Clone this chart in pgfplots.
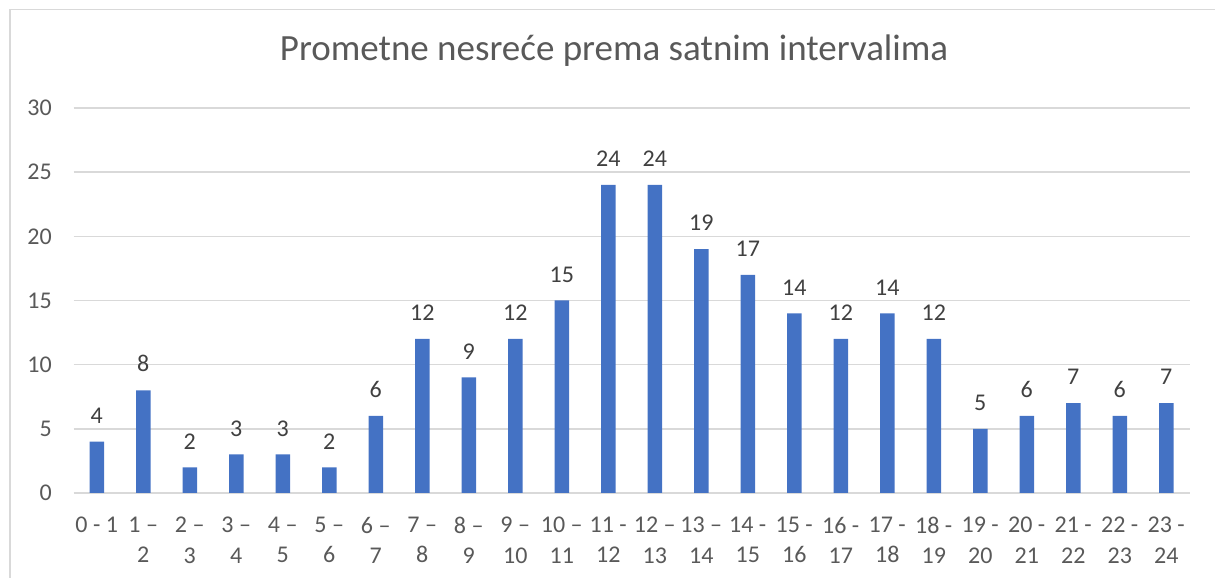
\documentclass[border=0pt]{standalone}
\usepackage{fontspec}
\setmainfont{Carlito}
\usepackage{pgfplots}
\pgfplotsset{compat=1.18}
\definecolor{barblue}{HTML}{4472C4}
\definecolor{gridgray}{HTML}{D9D9D9}
\definecolor{ticktext}{HTML}{595959}
\definecolor{labeltext}{HTML}{404040}
\begin{document}
\begin{tikzpicture}[x=1pt,y=1pt]
\path[use as bounding box] (0,0) rectangle (1215,578);
\draw[gridgray, line width=1.5pt] (10,0) -- (10,568.5) -- (1215,568.5);
\node[anchor=base, text=ticktext, inner sep=0pt, font=\fontsize{37}{44}\selectfont] at (614,517.3) {Prometne nesreće prema satnim intervalima};
\begin{axis}[
  at={(73.5pt,85pt)}, anchor=south west,
  scale only axis, width=1116pt, height=385pt,
  xmin=-0.5, xmax=23.5, ymin=0, ymax=30,
  ytick={0,5,...,30},
  xtick={0,...,23},
  xticklabels={{0 - 1},{1 –\\2},{2 –\\3},{3 –\\4},{4 –\\5},{5 –\\6},{6 –\\7},{7 –\\8},{8 –\\9},{9 –\\10},{10 –\\11},{11 -\\12},{12 –\\13},{13 –\\14},{14 -\\15},{15 -\\16},{16 -\\17},{17 -\\18},{18 -\\19},{19 -\\20},{20 -\\21},{21 -\\22},{22 -\\23},{23 -\\24}},
  axis line style={draw=none},
  major tick length=0pt,
  ymajorgrids, grid style={gridgray, line width=1.5pt},
  /pgf/number format/assume math mode=true,
  yticklabel style={anchor=east, inner sep=0pt, xshift=-21.5pt, text=ticktext, font=\fontsize{24}{30}\selectfont},
  xticklabel style={anchor=north, inner sep=0pt, align=center, yshift=-23.7pt, text=ticktext, font=\fontsize{24}{30.6}\selectfont},
  ybar, bar width=14.5pt,
  clip=false,
  nodes near coords,
  nodes near coords style={anchor=south, inner sep=0pt, yshift=18pt, text=labeltext, font=\fontsize{24}{30}\selectfont},
]
\addplot[fill=barblue, draw=none] coordinates {
(0,4) (1,8) (2,2) (3,3) (4,3) (5,2) (6,6) (7,12) (8,9) (9,12) (10,15) (11,24)
(12,24) (13,19) (14,17) (15,14) (16,12) (17,14) (18,12) (19,5) (20,6) (21,7) (22,6) (23,7)};
\end{axis}
\end{tikzpicture}
\end{document}
